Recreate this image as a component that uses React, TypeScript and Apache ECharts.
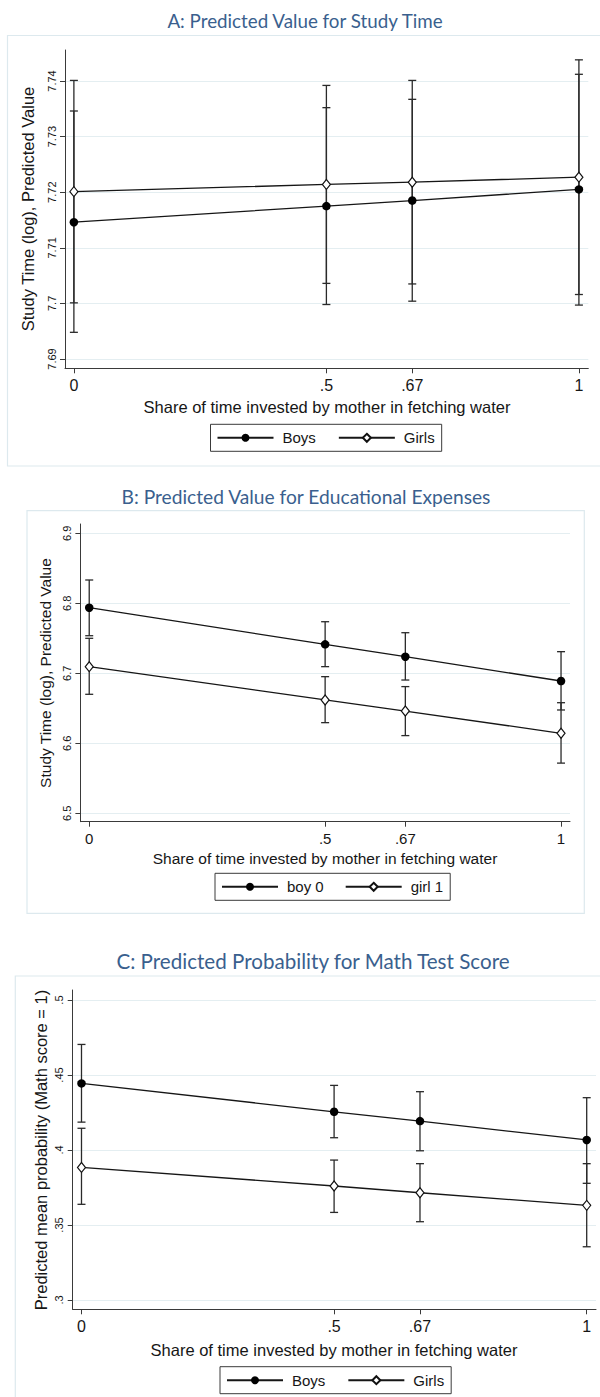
import React, { useEffect, useRef } from 'react';
import * as echarts from 'echarts';

// ---------- data ----------
const xValues = [0, 0.5, 0.67, 1];
const xTickLabels = ['0', '.5', '.67', '1'];

// Panel A: Study time (log)
const yTicksA = [7.69, 7.7, 7.71, 7.72, 7.73, 7.74];
const boysA = [7.7146, 7.7175, 7.7185, 7.7205];
const girlsA = [7.7201, 7.7214, 7.7218, 7.7227];
const boysALow = [7.6948, 7.6998, 7.7004, 7.6997];
const boysAHigh = [7.7346, 7.7352, 7.7367, 7.7412];
const girlsALow = [7.7001, 7.7036, 7.7035, 7.7016];
const girlsAHigh = [7.7401, 7.7392, 7.7401, 7.7438];

// Panel B: Educational expenses
const yTicksB = [6.5, 6.6, 6.7, 6.8, 6.9];
const boysB = [6.7937, 6.7414, 6.7237, 6.689];
const girlsB = [6.7095, 6.6619, 6.6461, 6.6143];
const boysBLow = [6.7537, 6.7095, 6.6904, 6.6476];
const boysBHigh = [6.8333, 6.7737, 6.758, 6.7309];
const girlsBLow = [6.67, 6.6295, 6.611, 6.5717];
const girlsBHigh = [6.75, 6.6952, 6.681, 6.658];

// Panel C: Math test score probability
const yTicksC = [0.3, 0.35, 0.4, 0.45, 0.5];
const boysC = [0.4444, 0.4255, 0.4193, 0.4067];
const girlsC = [0.3884, 0.376, 0.3715, 0.3631];
const boysCLow = [0.4186, 0.4082, 0.3995, 0.3778];
const boysCHigh = [0.4704, 0.4431, 0.4389, 0.4349];
const girlsCLow = [0.3638, 0.3584, 0.3522, 0.3355];
const girlsCHigh = [0.4145, 0.3933, 0.3909, 0.3909];

const titles = [
  'A: Predicted Value for Study Time',
  'B: Predicted Value for Educational Expenses',
  'C: Predicted Probability for Math Test Score',
];
const xAxisTitle = 'Share of time invested by mother in fetching water';
const yAxisTitles = [
  'Study Time (log), Predicted Value',
  'Study Time (log), Predicted Value',
  'Predicted mean probability (Math score = 1)',
];
const legendNames = [
  ['Boys', 'Girls'],
  ['boy 0', 'girl 1'],
  ['Boys', 'Girls'],
];

// ---------- styling / layout ----------
const SANS = '"Liberation Sans", Arial, sans-serif';
const TITLE_FONT = 'Lato, "Open Sans", sans-serif';
const TITLE_COLOR = '#3a5f8e';
const INK = '#161616';
const AXIS = '#3a3a3a';
const GRIDLINE = '#e4eef1';
const FRAME = '#dde9ee';

type PanelLayout = {
  grid: { left: number; top: number; width: number; height: number };
  xMin: number; xMax: number; yMin: number; yMax: number;
  yTicks: number[];
  yFmt: (v: number) => string;
  frame: { x: number; y: number; w: number; h: number };
  title: { x: number; y: number; size: number };
  xTitle: { x: number; y: number; size: number };
  yTitle: { x: number; y: number; size: number };
  tickSize: number;
  legend: { left: number; top: number; gap: number };
};

const fmtDec = (v: number) => String(Number(v.toFixed(3)));
const fmtNoZero = (v: number) => String(Number(v.toFixed(3))).replace(/^0\./, '.');

const layouts: PanelLayout[] = [
  {
    grid: { left: 65, top: 50, width: 523.3, height: 318.3 },
    xMin: -0.0176, xMax: 1.0186, yMin: 7.68833, yMax: 7.74557,
    yTicks: yTicksA, yFmt: fmtDec,
    frame: { x: 7.5, y: 35.5, w: 600, h: 430.5 },
    title: { x: 305, y: 20, size: 18.8 },
    xTitle: { x: 327, y: 407, size: 16.5 },
    yTitle: { x: 28, y: 209, size: 16.5 },
    tickSize: 16,
    legend: { left: 210.5, top: 424.3, gap: 22 },
  },
  {
    grid: { left: 80.4, top: 524, width: 489.6, height: 297.7 },
    xMin: -0.0187, xMax: 1.019, yMin: 6.488, yMax: 6.9133,
    yTicks: yTicksB, yFmt: fmtDec,
    frame: { x: 27, y: 510.7, w: 557.3, h: 402.6 },
    title: { x: 306, y: 496.5, size: 19.2 },
    xTitle: { x: 325, y: 858, size: 15.5 },
    yTitle: { x: 45, y: 673, size: 15.5 },
    tickSize: 15,
    legend: { left: 215, top: 873.3, gap: 21 },
  },
  {
    grid: { left: 72.7, top: 990, width: 523.3, height: 319.3 },
    xMin: -0.0174, xMax: 1.0184, yMin: 0.2938, yMax: 0.5067,
    yTicks: yTicksC, yFmt: fmtNoZero,
    frame: { x: 15.3, y: 976, w: 600, h: 440 },
    title: { x: 313, y: 960.5, size: 20.6 },
    xTitle: { x: 334, y: 1350, size: 16.5 },
    yTitle: { x: 41, y: 1150, size: 16.5 },
    tickSize: 16,
    legend: { left: 220, top: 1366.7, gap: 22 },
  },
];

const panelData = [
  { boys: boysA, girls: girlsA, bl: boysALow, bh: boysAHigh, gl: girlsALow, gh: girlsAHigh },
  { boys: boysB, girls: girlsB, bl: boysBLow, bh: boysBHigh, gl: girlsBLow, gh: girlsBHigh },
  { boys: boysC, girls: girlsC, bl: boysCLow, bh: boysCHigh, gl: girlsCLow, gh: girlsCHigh },
];

const xLabel = (v: number) => {
  for (let i = 0; i < xValues.length; i++) {
    if (Math.abs(xValues[i] - v) < 1e-6) return xTickLabels[i];
  }
  return '';
};

function errorBarRender(params: any, api: any) {
  const x = api.value(0);
  const lo = api.value(1);
  const hi = api.value(2);
  const p1 = api.coord([x, hi]);
  const p2 = api.coord([x, lo]);
  const w = 4;
  const style = { stroke: '#2a2a2a', lineWidth: 1.3 };
  return {
    type: 'group',
    children: [
      { type: 'line', shape: { x1: p1[0], y1: p1[1], x2: p2[0], y2: p2[1] }, style },
      { type: 'line', shape: { x1: p1[0] - w, y1: p1[1], x2: p1[0] + w, y2: p1[1] }, style },
      { type: 'line', shape: { x1: p2[0] - w, y1: p2[1], x2: p2[0] + w, y2: p2[1] }, style },
    ],
  };
}

function buildOption() {
  const grid: any[] = [];
  const xAxis: any[] = [];
  const yAxis: any[] = [];
  const series: any[] = [];
  const legend: any[] = [];
  const graphic: any[] = [];

  layouts.forEach((L, i) => {
    const d = panelData[i];
    grid.push({ ...L.grid, containLabel: false });
    xAxis.push({
      type: 'value',
      gridIndex: i,
      min: L.xMin,
      max: L.xMax,
      axisLine: { show: true, onZero: false, lineStyle: { color: AXIS, width: 1 } },
      axisTick: { show: true, length: 5, customValues: xValues, lineStyle: { color: AXIS } },
      axisLabel: {
        customValues: xValues,
        formatter: xLabel,
        color: INK,
        fontFamily: SANS,
        fontSize: L.tickSize,
        margin: 9,
      },
      splitLine: { show: false },
    });
    yAxis.push({
      type: 'value',
      gridIndex: i,
      min: L.yMin,
      max: L.yMax,
      axisLine: { show: true, onZero: false, lineStyle: { color: AXIS, width: 1 } },
      axisTick: { show: true, length: 5, customValues: L.yTicks, lineStyle: { color: AXIS } },
      axisLabel: {
        customValues: L.yTicks,
        formatter: (v: number) => L.yFmt(v),
        rotate: 90,
        color: INK,
        fontFamily: SANS,
        fontSize: 11,
        margin: 8,
      },
      splitLine: { show: true, lineStyle: { color: GRIDLINE, width: 1.2 } },
    });

    const [nb, ng] = legendNames[i];
    const ciData = xValues
      .map((x, k) => [x, d.gl[k], d.gh[k]])
      .concat(xValues.map((x, k) => [x, d.bl[k], d.bh[k]]));
    series.push({
      type: 'custom',
      name: 'ci' + i,
      xAxisIndex: i,
      yAxisIndex: i,
      renderItem: errorBarRender,
      encode: { x: 0, y: [1, 2] },
      data: ciData,
      z: 1,
      silent: true,
    });
    series.push({
      type: 'line',
      name: nb,
      xAxisIndex: i,
      yAxisIndex: i,
      data: xValues.map((x, k) => [x, d.boys[k]]),
      symbol: 'circle',
      symbolSize: 8.5,
      lineStyle: { color: INK, width: 1.3 },
      itemStyle: { color: '#000', borderColor: '#000', borderWidth: 0 },
      z: 3,
    });
    series.push({
      type: 'line',
      name: ng,
      xAxisIndex: i,
      yAxisIndex: i,
      data: xValues.map((x, k) => [x, d.girls[k]]),
      symbol: 'diamond',
      symbolSize: [8, 10],
      lineStyle: { color: INK, width: 1.3 },
      itemStyle: { color: '#fff', borderColor: '#111', borderWidth: 1.2 },
      z: 3,
    });

    legend.push({
      data: [nb, ng],
      left: L.legend.left,
      top: L.legend.top,
      orient: 'horizontal',
      selectedMode: false,
      itemWidth: 56,
      itemHeight: 10,
      itemGap: L.legend.gap,
      padding: [6, 7, 6, 6],
      borderColor: '#3a3a3a',
      borderWidth: 1,
      textStyle: { fontFamily: SANS, fontSize: 15, color: INK, padding: [0, 0, 0, 4] },
    });

    graphic.push({
      type: 'rect',
      silent: true,
      z: -10,
      shape: { x: L.frame.x, y: L.frame.y, width: L.frame.w, height: L.frame.h },
      style: { fill: 'none', stroke: FRAME, lineWidth: 1.2 },
    });
    graphic.push({
      type: 'text',
      silent: true,
      x: L.title.x,
      y: L.title.y,
      style: {
        text: titles[i],
        fill: TITLE_COLOR,
        font: `${L.title.size}px ${TITLE_FONT}`,
        align: 'center',
        verticalAlign: 'middle',
      },
    });
    graphic.push({
      type: 'text',
      silent: true,
      x: L.xTitle.x,
      y: L.xTitle.y,
      style: {
        text: xAxisTitle,
        fill: INK,
        font: `${L.xTitle.size}px ${SANS}`,
        align: 'center',
        verticalAlign: 'middle',
      },
    });
    graphic.push({
      type: 'text',
      silent: true,
      x: L.yTitle.x,
      y: L.yTitle.y,
      rotation: Math.PI / 2,
      style: {
        text: yAxisTitles[i],
        fill: INK,
        font: `${L.yTitle.size}px ${SANS}`,
        align: 'center',
        verticalAlign: 'middle',
      },
    });
  });

  return {
    animation: false,
    backgroundColor: '#ffffff',
    grid,
    xAxis,
    yAxis,
    series,
    legend,
    graphic,
  };
}

export default function App() {
  const ref = useRef<HTMLDivElement>(null);
  useEffect(() => {
    if (!ref.current) return;
    const chart = echarts.init(ref.current, undefined, { renderer: 'svg' });
    chart.setOption(buildOption() as any);
    return () => chart.dispose();
  }, []);
  return (
    <div
      ref={ref}
      style={{ position: 'absolute', left: 0, top: 0, width: 600, height: 1397, background: '#fff' }}
    />
  );
}
